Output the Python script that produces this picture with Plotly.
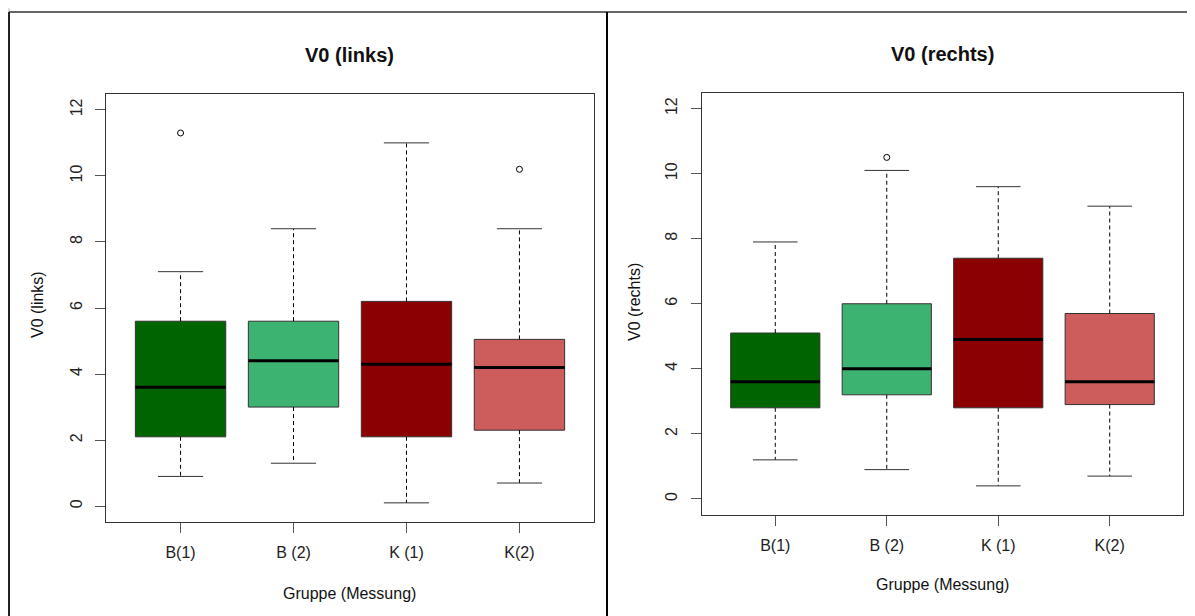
import plotly.graph_objects as go

# ---------------- data ----------------
groups = ["B(1)", "B (2)", "K (1)", "K(2)"]
colors = ["#006400", "#3CB371", "#8B0000", "#CD5C5C"]

# V0 (links)
links_lower = [0.9, 1.3, 0.1, 0.7]
links_q1 = [2.1, 3.0, 2.1, 2.3]
links_median = [3.6, 4.4, 4.3, 4.2]
links_q3 = [5.6, 5.6, 6.2, 5.05]
links_upper = [7.1, 8.4, 11.0, 8.4]
links_outliers = [[11.3], [], [], [10.2]]

# V0 (rechts)
rechts_lower = [1.2, 0.9, 0.4, 0.7]
rechts_q1 = [2.8, 3.2, 2.8, 2.9]
rechts_median = [3.6, 4.0, 4.9, 3.6]
rechts_q3 = [5.1, 6.0, 7.4, 5.7]
rechts_upper = [7.9, 10.1, 9.6, 9.0]
rechts_outliers = [[], [10.5], [], []]

y_ticks = [0, 2, 4, 6, 8, 10, 12]

# page body has an 8px margin: lay the figure out in screen pixels, shifted
OFF = 8
W, H = 1195 - OFF, 616 - OFF
FONT = "Liberation Sans, Arial, Helvetica, sans-serif"
LINE = "#333333"

fig = go.Figure()


def px(x):
    return (x - OFF) / W


def py(y):
    return 1 - (y - OFF) / H


def add_panel(xa, ya, lower, q1, med, q3, upper, outl):
    for i in range(len(groups)):
        pos = i + 1
        # box body
        fig.add_trace(go.Box(
            x=[pos], q1=[q1[i]], median=[med[i]], q3=[q3[i]],
            lowerfence=[q1[i]], upperfence=[q3[i]],
            width=0.8, fillcolor=colors[i],
            line=dict(color=LINE, width=1), whiskerwidth=0,
            boxpoints=False, xaxis=xa, yaxis=ya, showlegend=False,
            hoverinfo="skip"))
        # dashed whiskers
        fig.add_trace(go.Scatter(
            x=[pos, pos, None, pos, pos],
            y=[q3[i], upper[i], None, q1[i], lower[i]],
            mode="lines", line=dict(color="black", width=1, dash="4px,3px"),
            xaxis=xa, yaxis=ya, showlegend=False, hoverinfo="skip"))
        # whisker caps
        fig.add_trace(go.Scatter(
            x=[pos - 0.2, pos + 0.2, None, pos - 0.2, pos + 0.2],
            y=[upper[i], upper[i], None, lower[i], lower[i]],
            mode="lines", line=dict(color=LINE, width=1),
            xaxis=xa, yaxis=ya, showlegend=False, hoverinfo="skip"))
        # median
        fig.add_trace(go.Scatter(
            x=[pos - 0.4, pos + 0.4], y=[med[i], med[i]],
            mode="lines", line=dict(color="black", width=3),
            xaxis=xa, yaxis=ya, showlegend=False, hoverinfo="skip"))
        # outliers
        if outl[i]:
            fig.add_trace(go.Scatter(
                x=[pos] * len(outl[i]), y=outl[i], mode="markers",
                marker=dict(symbol="circle-open", size=6,
                            color="black", line=dict(width=1)),
                xaxis=xa, yaxis=ya, showlegend=False, hoverinfo="skip"))


add_panel("x", "y", links_lower, links_q1, links_median, links_q3,
          links_upper, links_outliers)
add_panel("x2", "y2", rechts_lower, rechts_q1, rechts_median, rechts_q3,
          rechts_upper, rechts_outliers)

xcommon = dict(range=[0.34, 4.66], tickvals=[1, 2, 3, 4], ticktext=groups,
               ticks="outside", ticklen=10, tickcolor="#555555",
               showline=True, linecolor=LINE, linewidth=1, mirror=True,
               showgrid=False, zeroline=False, ticklabelstandoff=6,
               tickfont=dict(family=FONT, size=16, color="#222222"))
ycommon = dict(range=[-0.48, 12.48], tickvals=y_ticks,
               ticks="outside", ticklen=10, tickcolor="#555555",
               showline=True, linecolor=LINE, linewidth=1, mirror=True,
               showgrid=False, zeroline=False, tickangle=-90,
               ticklabelstandoff=7,
               tickfont=dict(family=FONT, size=16, color="#222222"))

fig.update_layout(
    width=W, height=H,
    margin=dict(l=0, r=0, t=0, b=0),
    paper_bgcolor="white", plot_bgcolor="white",
    xaxis=dict(domain=[px(106), px(594)], anchor="y", **xcommon),
    yaxis=dict(domain=[py(522), py(94)], anchor="x", **ycommon),
    xaxis2=dict(domain=[px(701.7), px(1183.3)], anchor="y2", **xcommon),
    yaxis2=dict(domain=[py(514.5), py(93)], anchor="x2", **ycommon),
)

# titles / labels
ann = [
    ("<b>V0 (links)</b>", 349, 55, 20, 0),
    ("<b>V0 (rechts)</b>", 942.5, 54, 20, 0),
    ("Gruppe (Messung)", 349, 593, 16, 0),
    ("Gruppe (Messung)", 942.5, 584, 16, 0),
    ("V0 (links)", 37, 305, 16, -90),
    ("V0 (rechts)", 634, 302, 16, -90),
]
for text, x, y, size, ang in ann:
    fig.add_annotation(text=text, x=px(x), y=py(y), xref="paper", yref="paper",
                       showarrow=False, textangle=ang,
                       xanchor="center", yanchor="middle",
                       font=dict(family=FONT, size=size, color="#111111"))

# outer document frames
shapes = [
    dict(x0=px(9), x1=px(9), y0=py(12), y1=py(616), line=dict(color="#222222", width=2)),
    dict(x0=px(9), x1=px(1195), y0=py(12), y1=py(12), line=dict(color="#333333", width=1.5)),
    dict(x0=px(607), x1=px(607), y0=py(12), y1=py(616), line=dict(color="#000000", width=2)),
    dict(x0=px(8), x1=px(9), y0=py(11), y1=py(11), line=dict(color="#bbbbbb", width=1)),
    dict(x0=px(9), x1=px(9), y0=py(8), y1=py(11), line=dict(color="#bbbbbb", width=1)),
]
for s in shapes:
    fig.add_shape(type="line", xref="paper", yref="paper", **s)

fig.write_html("out.html")
